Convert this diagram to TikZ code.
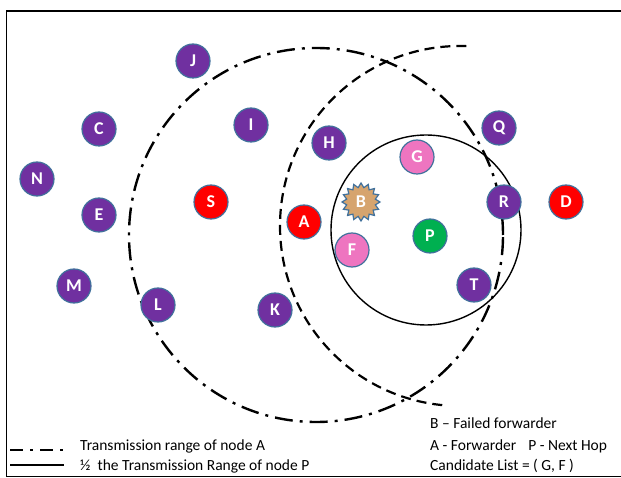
\documentclass[tikz,border=0pt]{standalone}
\usepackage{fontspec}
\setmainfont{Carlito}
\usetikzlibrary{shapes.geometric}
\definecolor{purp}{HTML}{7030A0}
\definecolor{redn}{HTML}{FF0000}
\definecolor{pinkn}{HTML}{EE75C0}
\definecolor{greenn}{HTML}{00B050}
\definecolor{tann}{HTML}{D6A46E}
\definecolor{bord}{HTML}{41719C}
\tikzset{
  nd/.style={circle, draw=bord, line width=1.2pt, minimum size=34pt, inner sep=0pt,
    font=\fontsize{18}{18}\selectfont\bfseries, text=white},
  dashdot/.style={line width=2.4pt, dash pattern=on 18pt off 7pt on 3pt off 7pt},
  dashedarc/.style={line width=2.2pt, dash pattern=on 10pt off 6pt},
  legtext/.style={anchor=west, inner sep=0pt, font=\fontsize{15.5}{16}\selectfont}
}
\begin{document}
\begin{tikzpicture}[x=1pt,y=1pt]
\useasboundingbox (0,0) rectangle (621,-478);
% frame
\draw[line width=1.8pt] (640,-11) -- (6.5,-11) -- (6.5,-476.5) -- (640,-476.5);
% ranges
\draw[dashdot] (316,-235) circle[radius=187pt];
\draw[dashedarc] (460pt,-226pt) ++(88:180pt) arc[start angle=88, end angle=265, radius=180pt];
\draw[line width=1.4pt] (426,-230) circle[radius=95pt];
% nodes
\node[nd, fill=purp] (J) at (193,-61) {J};
\node[nd, fill=purp] (C) at (99,-129) {C};
\node[nd, fill=purp] (I) at (251,-125) {I};
\node[nd, fill=purp] (H) at (329,-143) {H};
\node[nd, fill=pinkn] (G) at (417,-157) {G};
\node[nd, fill=purp] (Q) at (499,-128) {Q};
\node[nd, fill=purp] (N) at (37,-179) {N};
\node[nd, fill=redn] (S) at (211,-202) {S};
\node[star, star points=16, star point ratio=1.3, draw=bord, line width=1.2pt, fill=tann,
      minimum size=38pt, inner sep=0pt, text=white, font=\fontsize{18}{18}\selectfont\bfseries] (B) at (361,-202) {B};
\node[nd, fill=purp] (R) at (504,-202) {R};
\node[nd, fill=redn] (D) at (566,-202) {D};
\node[nd, fill=purp] (E) at (99,-215) {E};
\node[nd, fill=redn] (A) at (304,-222) {A};
\node[nd, fill=pinkn] (F) at (352,-250) {F};
\node[nd, fill=greenn] (P) at (430,-236) {P};
\node[nd, fill=purp] (M) at (74,-286) {M};
\node[nd, fill=purp] (L) at (158,-305) {L};
\node[nd, fill=purp] (K) at (275,-310) {K};
\node[nd, fill=purp] (T) at (474,-285) {T};
% legend
\coordinate (l1a) at (10,-450);
\coordinate (l1b) at (70,-450);
\coordinate (l2a) at (10,-465);
\coordinate (l2b) at (64,-465);
\draw[line width=2.4pt, dash pattern=on 13pt off 7pt on 3pt off 7pt] (l1a) -- (l1b);
\draw[line width=1.6pt] (l2a) -- (l2b);
\node[legtext] (t1) at (80,-446) {Transmission range of node A};
\node[legtext] (t2) at (80,-466) {½\ \ the Transmission Range of node P};
\node[legtext] (t3) at (430,-423) {B – Failed forwarder};
\node[legtext] (t4) at (430,-446) {A - Forwarder\hspace{12pt}P - Next Hop};
\node[legtext] (t5) at (430,-466) {Candidate List = ( G, F )};
\end{tikzpicture}
\end{document}
